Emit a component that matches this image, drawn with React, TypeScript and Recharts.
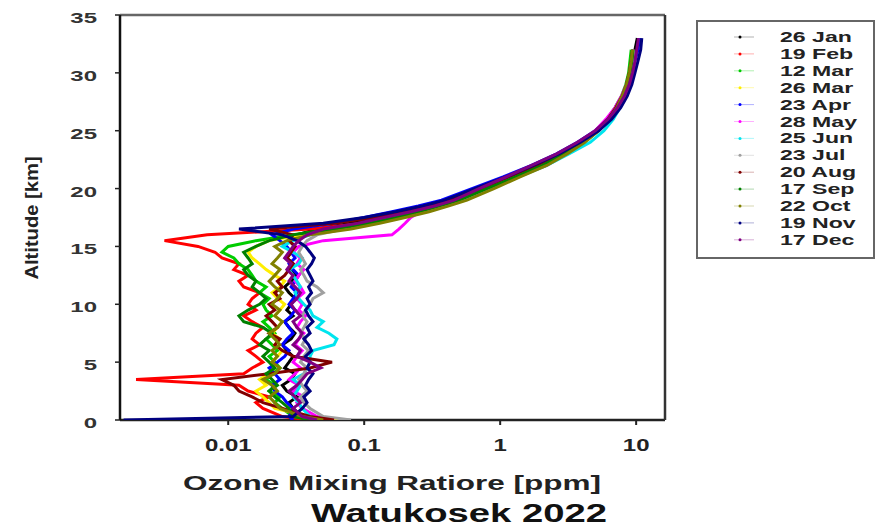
import { ScatterChart, Scatter, XAxis, YAxis } from "recharts";

document.body.style.margin = "0";

// altitude levels in km, shared by every sounding
const altitudes = [
  0, 0.3,
  1, 1.5, 2, 2.5, 3, 3.5, 4, 4.5, 5,
  5.5, 6, 6.5, 7, 7.5, 8, 8.5, 9, 9.5, 10,
  10.5, 11, 11.5, 12, 12.5, 13, 13.5, 14, 14.5, 15,
  15.5, 16, 16.5, 17, 17.5, 18, 18.5, 19,
  20, 21, 22, 23, 24, 25, 26, 27, 28, 29, 30, 31, 32, 33,
];

// ozone mixing ratio (ppm) per sounding, one value per altitude level
const jan26 = [
  0.045, 0.035,
  0.03, 0.028, 0.032, 0.027, 0.025, 0.029, 0.031, 0.026, 0.028,
  0.03, 0.027, 0.025, 0.029, 0.031, 0.028, 0.026, 0.03, 0.027, 0.029,
  0.031, 0.028, 0.026, 0.029, 0.032, 0.028, 0.03, 0.027, 0.029, 0.031,
  0.028, 0.032, 0.045, 0.08, 0.13, 0.2, 0.3, 0.42,
  0.7, 1.15, 1.8, 2.7, 3.8, 5.1, 6.3, 7.3, 8.1, 8.7, 9.1, 9.5, 9.8, 10.2,
];
const feb19 = [
  0.04, 0.025,
  0.018, 0.016, 0.02, 0.014, 0.012, 0.0021, 0.013, 0.015, 0.018,
  0.016, 0.014, 0.017, 0.015, 0.016, 0.018, 0.015, 0.013, 0.016, 0.014,
  0.015, 0.017, 0.013, 0.012, 0.014, 0.011, 0.012, 0.009, 0.008, 0.006,
  0.0034, 0.007, 0.04, 0.1, 0.15, 0.22, 0.32, 0.45,
  0.75, 1.2, 1.9, 2.9, 4.0, 5.2, 6.3, 7.2, 8.0, 8.6, 9.0, 9.3, 9.6, null,
];
const mar12 = [
  0.05, 0.03,
  0.025, 0.022, 0.024, 0.02, 0.022, 0.019, 0.021, 0.024, 0.022,
  0.02, 0.023, 0.021, 0.019, 0.022, 0.02, 0.018, 0.021, 0.019, 0.018,
  0.02, 0.017, 0.019, 0.016, 0.015, 0.014, 0.012, 0.011, 0.009, 0.01,
  0.016, 0.03, 0.06, 0.1, 0.16, 0.24, 0.35, 0.5,
  0.8, 1.3, 2.0, 2.9, 3.9, 5.0, 6.1, 7.0, 7.8, 8.4, 8.8, 9.0, 9.2, null,
];
const mar26 = [
  0.07, 0.04,
  0.022, 0.02, 0.018, 0.016, 0.019, 0.017, 0.02, 0.022, 0.021,
  0.023, 0.025, 0.022, 0.024, 0.021, 0.023, 0.025, 0.022, 0.024, 0.026,
  0.023, 0.021, 0.024, 0.026, 0.022, 0.019, 0.017, 0.015, 0.014, 0.016,
  0.02, 0.035, 0.07, 0.12, 0.19, 0.28, 0.4, 0.55,
  0.85, 1.35, 2.1, 3.0, 4.1, 5.3, 6.4, 7.4, 8.2, 8.8, 9.2, 9.5, null, null,
];
const apr23 = [
  0.03, 0.028,
  0.03, 0.027, 0.025, 0.022, 0.021, 0.024, 0.022, 0.02, 0.023,
  0.026, 0.028, 0.025, 0.027, 0.03, 0.028, 0.026, 0.029, 0.031, 0.028,
  0.03, 0.032, 0.029, 0.031, 0.033, 0.03, 0.028, 0.031, 0.029, 0.027,
  0.024, 0.021, 0.03, 0.06, 0.1, 0.16, 0.25, 0.37,
  0.62, 1.05, 1.7, 2.6, 3.7, 5.0, 6.2, 7.3, 8.2, 8.9, 9.4, 9.8, 10.3, 10.6,
];
const may28 = [
  0.06, 0.045,
  0.035, 0.032, 0.036, 0.03, 0.033, 0.028, 0.031, 0.034, 0.03,
  0.032, 0.035, 0.031, 0.033, 0.036, 0.032, 0.034, 0.037, 0.033, 0.035,
  0.032, 0.036, 0.034, 0.031, 0.033, 0.036, 0.032, 0.034, 0.03, 0.033,
  0.05, 0.16, 0.18, 0.2, 0.22, 0.26, 0.33, 0.45,
  0.75, 1.3, 2.2, 3.1, 4.0, 5.0, 6.0, 7.0, 7.8, 8.5, 9.0, 9.3, 9.6, null,
];
const jun25 = [
  0.05, 0.04,
  0.035, 0.033, 0.03, 0.032, 0.034, 0.03, 0.036, 0.038, 0.04,
  0.04, 0.042, 0.06, 0.063, 0.055, 0.045, 0.05, 0.042, 0.04, 0.036,
  0.033, 0.031, 0.034, 0.032, 0.03, 0.028, 0.033, 0.035, 0.03, 0.025,
  0.03, 0.04, 0.07, 0.12, 0.18, 0.27, 0.38, 0.52,
  0.85, 1.35, 2.2, 3.2, 4.6, 5.8, 6.8, 7.6, 8.3, 8.8, 9.2, 9.5, null, null,
];
const jul23 = [
  0.08, 0.05,
  0.04, 0.036, 0.034, 0.038, 0.035, 0.033, 0.036, 0.038, 0.034,
  0.036, 0.039, 0.035, 0.037, 0.034, 0.036, 0.038, 0.035, 0.037, 0.04,
  0.042, 0.05, 0.045, 0.038, 0.036, 0.034, 0.037, 0.035, 0.033, 0.035,
  0.038, 0.045, 0.07, 0.11, 0.17, 0.26, 0.37, 0.5,
  0.8, 1.25, 1.95, 2.9, 4.0, 5.2, 6.3, 7.3, 8.1, 8.7, 9.1, 9.4, 9.6, null,
];
const aug20 = [
  0.06, 0.04,
  0.025, 0.018, 0.015, 0.012, 0.011, 0.009, 0.02, 0.04, 0.058,
  0.03, 0.025, 0.022, 0.024, 0.02, 0.023, 0.021, 0.019, 0.022, 0.02,
  0.024, 0.022, 0.025, 0.023, 0.026, 0.028, 0.03, 0.027, 0.029, 0.031,
  0.028, 0.03, 0.02, 0.06, 0.12, 0.2, 0.3, 0.44,
  0.72, 1.15, 1.85, 2.8, 3.9, 5.1, 6.2, 7.1, 7.9, 8.5, 8.9, 9.2, 9.4, null,
];
const sep17 = [
  0.04, 0.03,
  0.028, 0.025, 0.022, 0.02, 0.023, 0.021, 0.019, 0.022, 0.02,
  0.018, 0.02, 0.017, 0.019, 0.021, 0.018, 0.013, 0.012, 0.014, 0.017,
  0.019, 0.017, 0.015, 0.016, 0.014, 0.013, 0.015, 0.014, 0.013, 0.016,
  0.02, 0.03, 0.06, 0.11, 0.17, 0.25, 0.36, 0.5,
  0.8, 1.3, 2.05, 3.0, 4.1, 5.3, 6.4, 7.3, 8.0, 8.6, 9.0, 9.3, 9.5, null,
];
const oct22 = [
  0.05, 0.035,
  0.024, 0.022, 0.02, 0.023, 0.021, 0.018, 0.022, 0.024, 0.021,
  0.023, 0.021, 0.024, 0.022, 0.02, 0.023, 0.025, 0.022, 0.024, 0.021,
  0.023, 0.025, 0.022, 0.02, 0.022, 0.024, 0.021, 0.023, 0.025, 0.022,
  0.027, 0.04, 0.08, 0.13, 0.2, 0.3, 0.42, 0.57,
  0.9, 1.4, 2.2, 3.1, 4.2, 5.3, 6.3, 7.2, 7.9, 8.5, 8.9, 9.2, 9.4, null,
];
const nov19 = [
  0.0017, 0.03,
  0.035, 0.038, 0.036, 0.04, 0.037, 0.039, 0.042, 0.038, 0.04,
  0.037, 0.041, 0.039, 0.036, 0.04, 0.038, 0.042, 0.039, 0.037, 0.04,
  0.038, 0.041, 0.039, 0.042, 0.04, 0.038, 0.041, 0.043, 0.04, 0.037,
  0.032, 0.025, 0.012, 0.05, 0.1, 0.17, 0.27, 0.39,
  0.65, 1.1, 1.75, 2.7, 3.9, 5.3, 6.6, 7.7, 8.6, 9.3, 9.8, 10.3, 10.8, 11,
];
const dec17 = [
  0.045, 0.035,
  0.03, 0.034, 0.031, 0.028, 0.032, 0.035, 0.038, 0.048, 0.04,
  0.032, 0.034, 0.03, 0.033, 0.035, 0.032, 0.03, 0.034, 0.031, 0.029,
  0.032, 0.034, 0.031, 0.028, 0.03, 0.027, 0.029, 0.026, 0.028, 0.03,
  0.033, 0.038, 0.05, 0.09, 0.14, 0.22, 0.33, 0.46,
  0.7, 1.1, 1.7, 2.6, 3.7, 5.0, 6.2, 7.3, 8.2, 8.9, 9.4, 9.8, 10.1, 10.4,
];

const seriesList = [
  { name: "26 Jan", color: "#000000", values: jan26 },
  { name: "19 Feb", color: "#ff0000", values: feb19 },
  { name: "12 Mar", color: "#00cc00", values: mar12 },
  { name: "26 Mar", color: "#ffee00", values: mar26 },
  { name: "23 Apr", color: "#0000ff", values: apr23 },
  { name: "28 May", color: "#ff00ff", values: may28 },
  { name: "25 Jun", color: "#00e5ee", values: jun25 },
  { name: "23 Jul", color: "#a0a0a0", values: jul23 },
  { name: "20 Aug", color: "#800000", values: aug20 },
  { name: "17 Sep", color: "#008000", values: sep17 },
  { name: "22 Oct", color: "#808000", values: oct22 },
  { name: "19 Nov", color: "#000080", values: nov19 },
  { name: "17 Dec", color: "#800080", values: dec17 },
];

const xTicks = [0.01, 0.1, 1, 10];
const yTicks = [0, 5, 10, 15, 20, 25, 30, 35];

const FONT = "'Liberation Sans', Arial, sans-serif";

const toPoints = (values: (number | null)[]) =>
  altitudes
    .map((alt, i) => ({ alt, o3: values[i] }))
    .filter((p) => p.o3 != null);

const XTick = (props: any) => {
  const { x, y, payload } = props;
  return (
    <text
      transform={`translate(${x},${y + 24}) scale(1.5,1)`}
      textAnchor="middle"
      fontSize={16}
      fontWeight="bold"
      fontFamily={FONT}
      fill="#222"
    >
      {payload.value}
    </text>
  );
};

const YTick = (props: any) => {
  const { x, y, payload } = props;
  return (
    <text
      transform={`translate(${x - 16},${y + 8}) scale(1.6,1)`}
      textAnchor="end"
      fontSize={15}
      fontWeight="bold"
      fontFamily={FONT}
      fill="#333"
    >
      {payload.value}
    </text>
  );
};

const noShape = () => <g />;

export default function App() {
  return (
    <div style={{ position: "relative", width: 880, height: 526, background: "#fff" }}>
      <ScatterChart width={880} height={526} margin={{ top: 10, right: 205, bottom: 76, left: 60 }}>
        <XAxis
          xAxisId="bottom"
          type="number"
          dataKey="o3"
          scale="log"
          domain={[0.0016, 16.3]}
          allowDataOverflow
          ticks={xTicks}
          height={30}
          tick={<XTick />}
          tickSize={5}
          axisLine={{ stroke: "#222", strokeWidth: 2.5 }}
          tickLine={{ stroke: "#222", strokeWidth: 2 }}
        />
        <XAxis
          xAxisId="top"
          orientation="top"
          type="number"
          dataKey="o3"
          scale="log"
          domain={[0.0016, 16.3]}
          allowDataOverflow
          ticks={xTicks}
          height={5}
          tick={false}
          tickSize={5}
          axisLine={{ stroke: "#666", strokeWidth: 2.5 }}
          tickLine={{ stroke: "#444", strokeWidth: 2 }}
        />
        <YAxis
          yAxisId="left"
          type="number"
          dataKey="alt"
          domain={[0, 35]}
          allowDataOverflow
          ticks={yTicks}
          width={60}
          tick={<YTick />}
          tickSize={5}
          axisLine={{ stroke: "#111", strokeWidth: 2.5 }}
          tickLine={{ stroke: "#222", strokeWidth: 1.5 }}
        />
        <YAxis
          yAxisId="right"
          orientation="right"
          type="number"
          dataKey="alt"
          domain={[0, 35]}
          allowDataOverflow
          ticks={yTicks}
          width={10}
          tick={false}
          tickSize={5}
          axisLine={{ stroke: "#333", strokeWidth: 2.5 }}
          tickLine={{ stroke: "#333", strokeWidth: 1.5 }}
        />
        {seriesList.map((s) => (
          <Scatter
            key={s.name}
            name={s.name}
            xAxisId="bottom"
            yAxisId="left"
            data={toPoints(s.values)}
            fill={s.color}
            line={{ stroke: s.color, strokeWidth: 3 }}
            shape={noShape}
            isAnimationActive={false}
          />
        ))}
      </ScatterChart>
      <svg
        width={880}
        height={526}
        style={{ position: "absolute", left: 0, top: 0, pointerEvents: "none" }}
      >
        <text
          transform="translate(38,218) rotate(-90) scale(1.12,1)"
          textAnchor="middle"
          fontSize={18}
          fontWeight="bold"
          fontFamily={FONT}
          fill="#222"
        >
          Altitude [km]
        </text>
        <text
          transform="translate(392,490) scale(1.5,1)"
          textAnchor="middle"
          fontSize={21}
          fontWeight="bold"
          fontFamily={FONT}
          fill="#222"
        >
          Ozone Mixing Ratiore [ppm]
        </text>
        <text
          transform="translate(459,522) scale(1.53,1)"
          textAnchor="middle"
          fontSize={25}
          fontWeight="bold"
          fontFamily={FONT}
          fill="#111"
        >
          Watukosek 2022
        </text>
        <rect x={697} y={21} width={177} height={237} fill="#fff" stroke="#666" strokeWidth={2} />
        {seriesList.map((s, i) => {
          const cy = 37 + i * 16.9;
          return (
            <g key={s.name}>
              <line x1={734} x2={754} y1={cy} y2={cy} stroke={s.color} strokeWidth={1} opacity={0.3} />
              <circle cx={740} cy={cy} r={1.5} fill={s.color} />
              <text
                transform={`translate(780,${cy + 5}) scale(1.65,1)`}
                fontSize={14}
                fontWeight="bold"
                fontFamily={FONT}
                fill="#222"
              >
                {s.name}
              </text>
            </g>
          );
        })}
      </svg>
    </div>
  );
}
